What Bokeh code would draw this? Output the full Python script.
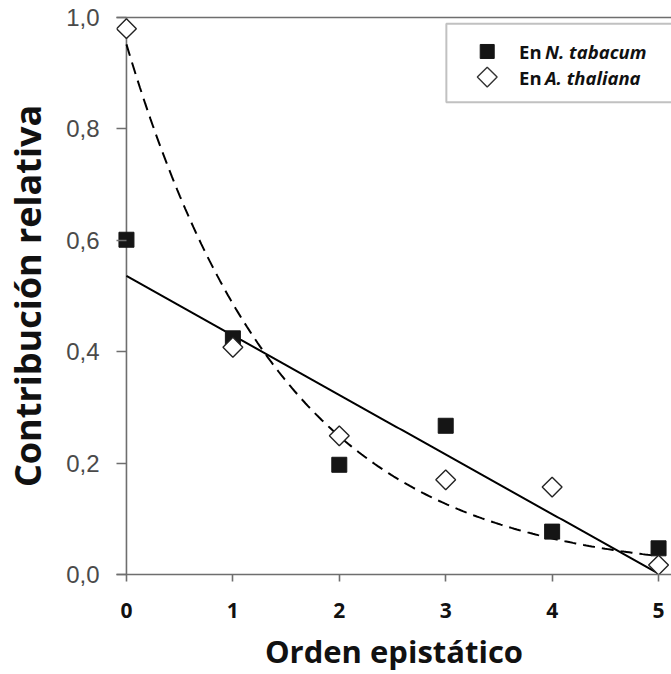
import numpy as np
from bokeh.plotting import figure
from bokeh.models import (Range1d, LinearAxis, FixedTicker, CustomJSTickFormatter,
                          BoxAnnotation, Label, Span)
from bokeh.embed import file_html
from bokeh.resources import INLINE

# ---- data ----
orden = [0, 1, 2, 3, 4, 5]
tabacum = [0.601, 0.424, 0.197, 0.267, 0.077, 0.047]
thaliana = [0.980, 0.408, 0.249, 0.170, 0.157, 0.017]
x_ticks = [0, 1, 2, 3, 4, 5]
y_ticks = [0.0, 0.2, 0.4, 0.6, 0.8, 1.0]
legend_labels = ["N. tabacum", "A. thaliana"]

x = np.array(orden, dtype=float)
yt = np.array(tabacum)
ya = np.array(thaliana)

# linear regression (N. tabacum)
m, c = np.polyfit(x, yt, 1)
xf = np.linspace(0, 5, 200)
lin = m * xf + c

# exponential least squares fit (A. thaliana)
best = None
for b in np.linspace(0.3, 1.2, 901):
    e = np.exp(-b * x)
    a = (ya * e).sum() / (e * e).sum()
    r = ((ya - a * e) ** 2).sum()
    if best is None or r < best[0]:
        best = (r, a, b)
_, a_fit, b_fit = best
expo = a_fit * np.exp(-b_fit * xf)

FONT = "Open Sans"
GRAY = "#6e6e6e"

p = figure(width=671, height=674, output_backend="svg", toolbar_location=None,
           x_range=Range1d(-0.0936, 5.1217), y_range=Range1d(0, 1.0),
           min_border_left=114, min_border_right=0, min_border_top=17,
           min_border_bottom=98, outline_line_color=None)
p.grid.visible = False
p.background_fill_color = "white"

# vertical axis line at x = 0
p.add_layout(Span(location=0, dimension="height", line_color=GRAY, line_width=1.6,
                  level="underlay"))

p.line(xf, lin, line_color="black", line_width=2)
p.line(xf, expo, line_color="black", line_width=2, line_dash="12 7")

p.scatter(x, yt, marker="square", size=15, fill_color="#151515",
          line_color="#151515")
p.scatter(x, ya, marker="square", size=14, angle=np.pi / 4,
          fill_color="white", line_color="#222222", line_width=1.4)

# axes
xa = p.xaxis[0]
xa.ticker = FixedTicker(ticks=x_ticks)
xa.axis_line_color = GRAY
xa.axis_line_width = 1.6
xa.major_tick_line_color = GRAY
xa.major_tick_line_width = 1.6
xa.major_tick_out = 7
xa.major_tick_in = 0
xa.minor_tick_line_color = None
xa.major_label_text_font = FONT
xa.major_label_text_font_style = "bold"
xa.major_label_text_font_size = "21px"
xa.major_label_text_color = "#111111"
xa.major_label_standoff = 21
xa.axis_label = "Orden epistático"
xa.axis_label_text_font = FONT
xa.axis_label_text_font_style = "bold"
xa.axis_label_text_font_size = "31px"
xa.axis_label_text_color = "#111111"
xa.axis_label_standoff = 9

ya_ax = p.yaxis[0]
ya_ax.ticker = FixedTicker(ticks=y_ticks)
ya_ax.formatter = CustomJSTickFormatter(code="return tick.toFixed(1).replace('.', ',');")
ya_ax.axis_line_color = None
ya_ax.major_tick_line_color = GRAY
ya_ax.major_tick_line_width = 1.6
ya_ax.major_tick_out = 0
ya_ax.major_tick_in = 10
ya_ax.minor_tick_line_color = None
ya_ax.major_label_text_font = "Liberation Sans"
ya_ax.major_label_text_font_size = "24px"
ya_ax.major_label_text_color = "#4a4a4a"
ya_ax.major_label_standoff = 17
ya_ax.axis_label = "Contribución relativa"
ya_ax.axis_label_text_font = FONT
ya_ax.axis_label_text_font_style = "bold"
ya_ax.axis_label_text_font_size = "36px"
ya_ax.axis_label_text_color = "#111111"
ya_ax.axis_label_standoff = 11

top = LinearAxis(ticker=FixedTicker(ticks=[]), axis_line_color=GRAY, axis_line_width=1.6,
                 major_tick_line_color=None, minor_tick_line_color=None,
                 major_label_text_font_size="0px", major_label_standoff=0)
p.add_layout(top, "above")

# legend (manual, to allow italics)
p.add_layout(BoxAnnotation(left=3.006, right=6, top=0.989, bottom=0.848,
                           fill_color="white", fill_alpha=1.0,
                           line_color="#333333", line_width=2, level="underlay"))
p.scatter([3.39], [0.939], marker="square", size=14, fill_color="#151515",
          line_color="#151515")
p.scatter([3.39], [0.893], marker="square", size=14, angle=np.pi / 4,
          fill_color="white", line_color="#333333", line_width=1.4)
for yy, lab in zip([0.939, 0.893], legend_labels):
    p.add_layout(Label(x=3.689, y=yy, text="En", text_font=FONT, text_font_style="bold",
                       text_font_size="18.5px", text_baseline="middle", text_color="#111111"))
    p.add_layout(Label(x=3.933, y=yy, text=lab, text_font=FONT,
                       text_font_style="bold italic", text_font_size="18.5px",
                       text_baseline="middle", text_color="#111111"))

open("out.html", "w").write(file_html(p, INLINE))
